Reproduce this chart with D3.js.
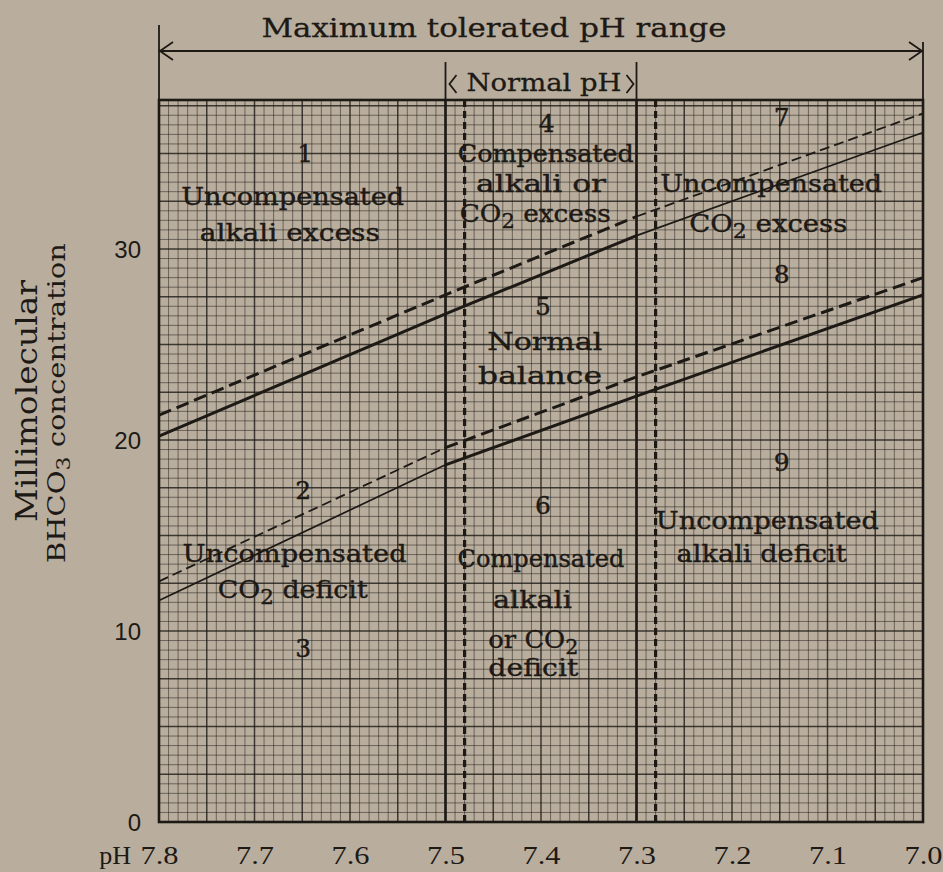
<!DOCTYPE html>
<html><head><meta charset="utf-8">
<script src="https://cdn.jsdelivr.net/npm/d3@7"></script>
<style>html,body{margin:0;padding:0;background:#b9ae9e;} svg{display:block}</style>
</head><body><svg id="c" width="943" height="872"></svg>
<script>
// ---- data ----
const phPoints    = [7.8, 7.5, 7.3, 7.0];
const upperSolid  = [20.2, 26.6, 30.7, 36.1];
const upperDashed = [21.3, 27.6, 31.7, 37.1];
const lowerSolid  = [11.6, 18.7, 22.3, 27.6];
const lowerDashed = [12.6, 19.6, 23.3, 28.5];
const phTicks     = [7.8, 7.7, 7.6, 7.5, 7.4, 7.3, 7.2, 7.1, 7.0];
const phTickLabels= ["7.8","7.7","7.6","7.5","7.4","7.3","7.2","7.1","7.0"];
const yTicks      = [0, 10, 20, 30];
const normalLimits= [7.5, 7.3];
const compLimits  = [7.48, 7.28];
const regionTexts = [
  ["1", 7.647, 35.0], ["Uncompensated", 7.660, 32.8, 223], ["alkali excess", 7.663, 30.9, 180],
  ["2", 7.649, 17.4], ["Uncompensated", 7.658, 14.1, 224], ["CO_2 deficit", 7.660, 12.2, 150],
  ["3", 7.649, 9.1],
  ["4", 7.394, 36.6], ["Compensated", 7.395, 35.0, 176], ["alkali or", 7.400, 33.45, 130], ["CO_2 excess", 7.406, 31.9, 151],
  ["5", 7.398, 27.0], ["Normal", 7.396, 25.2, 115], ["balance", 7.401, 23.4, 124],
  ["6", 7.398, 16.6], ["Compensated", 7.400, 13.8, 167], ["alkali", 7.409, 11.7, 79], ["or CO_2", 7.408, 9.6, 90], ["deficit", 7.408, 8.1, 90],
  ["7", 7.148, 36.9], ["Uncompensated", 7.159, 33.45, 222], ["CO_2 excess", 7.162, 31.35, 158],
  ["8", 7.148, 28.7],
  ["9", 7.148, 18.85], ["Uncompensated", 7.163, 15.8, 223], ["alkali deficit", 7.169, 14.1, 170]
];

const svg = d3.select("#c");
const ink = "#1d1915";
const x = d3.scaleLinear().domain([7.8, 7.0]).range([159, 923]);
const y = d3.scaleLinear().domain([0, 37.8]).range([822, 100]);

// background
svg.append("rect").attr("width", 943).attr("height", 872).attr("fill", "#b9ae9e");

// grid
const g = svg.append("g");
const minorX = d3.range(1, 80).map(i => ({v: 7.8 - i * 0.01, major: i % 5 === 0}));
const minorY = d3.range(1, 76).map(i => ({v: i * 0.5, major: i % 5 === 0}));
g.selectAll("line.gx").data(minorX).join("line")
  .attr("x1", d => x(d.v)).attr("x2", d => x(d.v))
  .attr("y1", y(37.8)).attr("y2", y(0))
  .attr("stroke", ink).attr("stroke-opacity", d => d.major ? 0.8 : 0.5)
  .attr("stroke-width", d => d.major ? 1.5 : 1);
g.selectAll("line.gy").data(minorY).join("line")
  .attr("y1", d => y(d.v)).attr("y2", d => y(d.v))
  .attr("x1", x(7.8)).attr("x2", x(7.0))
  .attr("stroke", ink).attr("stroke-opacity", d => d.major ? 0.8 : 0.5)
  .attr("stroke-width", d => d.major ? 1.5 : 1);

// region boundaries
svg.selectAll("line.nl").data(normalLimits).join("line")
  .attr("x1", d => x(d)).attr("x2", d => x(d)).attr("y1", y(37.8)).attr("y2", y(0))
  .attr("stroke", ink).attr("stroke-width", 2.6);
svg.selectAll("line.cl").data(compLimits).join("line")
  .attr("x1", d => x(d)).attr("x2", d => x(d)).attr("y1", y(37.8)).attr("y2", y(0))
  .attr("stroke", ink).attr("stroke-width", 3.2).attr("stroke-dasharray", "7,4");

// diagonal lines
const line = d3.line().x(d => x(d[0])).y(d => y(d[1]));
function seg(vals, i0, i1) { return d3.range(i0, i1 + 1).map(i => [phPoints[i], vals[i]]); }
const segs = [
  {d: seg(upperSolid, 0, 2), w: 3, dash: null},
  {d: seg(upperSolid, 2, 3), w: 1.7, dash: null},
  {d: seg(upperDashed, 0, 2), w: 3, dash: "13,6"},
  {d: seg(upperDashed, 2, 3), w: 1.8, dash: "10,5"},
  {d: seg(lowerSolid, 0, 1), w: 1.7, dash: null},
  {d: seg(lowerSolid, 1, 3), w: 3, dash: null},
  {d: seg(lowerDashed, 0, 1), w: 1.8, dash: "10,5"},
  {d: seg(lowerDashed, 1, 3), w: 3, dash: "13,6"}
];
svg.selectAll("path.s").data(segs).join("path")
  .attr("d", s => line(s.d)).attr("fill", "none").attr("stroke", ink)
  .attr("stroke-width", s => s.w).attr("stroke-dasharray", s => s.dash);

// frame
svg.append("rect").attr("x", x(7.8)).attr("y", y(37.8))
  .attr("width", x(7.0) - x(7.8)).attr("height", y(0) - y(37.8))
  .attr("fill", "none").attr("stroke", ink).attr("stroke-width", 2.6);

// region labels
function addText(sel, str) {
  const parts = str.split(/(_\d)/);
  parts.forEach(p => {
    if (!p) return;
    if (p[0] === "_") sel.append("tspan").attr("baseline-shift", "-28%").attr("font-size", "0.8em").text(p.slice(1));
    else sel.append("tspan").attr("baseline-shift", "0").text(p);
  });
}
const labG = svg.append("g").attr("font-family", "'DejaVu Serif', serif").attr("fill", ink)
  .attr("stroke", ink).attr("stroke-width", 0.4)
  .attr("font-size", 25).attr("text-anchor", "middle");
regionTexts.forEach(r => {
  const t = labG.append("text").attr("x", x(r[1])).attr("y", y(r[2]) + 9);
  if (r[3]) t.attr("textLength", r[3]).attr("lengthAdjust", "spacingAndGlyphs");
  addText(t, r[0]);
});

// axes tick labels
const xAxis = d3.axisBottom(x).tickValues(phTicks).tickFormat((d, i) => phTickLabels[i]).tickSize(0);
const xa = svg.append("g").attr("transform", `translate(0,${y(0)})`).call(xAxis);
xa.select(".domain").remove();
xa.selectAll("text").attr("font-family", "'Liberation Serif', serif").attr("font-size", 26)
  .attr("fill", ink).attr("dy", 0).attr("y", 42).attr("transform", null)
  .attr("textLength", 38).attr("lengthAdjust", "spacingAndGlyphs");
svg.append("text").attr("x", 131).attr("y", y(0) + 42).attr("text-anchor", "end")
  .attr("font-family", "'Liberation Serif', serif").attr("font-size", 26).attr("fill", ink).text("pH");

const yAxis = d3.axisLeft(y).tickValues(yTicks).tickSize(0);
const ya = svg.append("g").attr("transform", `translate(${x(7.8)},0)`).call(yAxis);
ya.select(".domain").remove();
ya.selectAll("text").attr("font-family", "'Liberation Sans', sans-serif").attr("font-size", 24)
  .attr("fill", ink).attr("x", -18).attr("dy", "0.36em");

// y title
svg.append("text").attr("transform", "translate(37,401) rotate(-90)").attr("text-anchor", "middle")
  .attr("font-family", "'DejaVu Serif', serif").attr("font-size", 29).attr("fill", ink)
  .attr("textLength", 242).attr("lengthAdjust", "spacingAndGlyphs").text("Millimolecular");
const yt2 = svg.append("text").attr("transform", "translate(65,403) rotate(-90)").attr("text-anchor", "middle")
  .attr("font-family", "'DejaVu Serif', serif").attr("font-size", 24).attr("fill", ink)
  .attr("textLength", 320).attr("lengthAdjust", "spacingAndGlyphs");
yt2.append("tspan").text("BHCO");
yt2.append("tspan").attr("baseline-shift", "-28%").attr("font-size", "0.75em").text("3");
yt2.append("tspan").attr("baseline-shift", "0").text("  concentration");

// top annotations
const topG = svg.append("g").attr("stroke", ink).attr("fill", "none");
topG.append("line").attr("x1", x(7.8)).attr("x2", x(7.0)).attr("y1", 51).attr("y2", 51).attr("stroke-width", 1.8);
topG.append("line").attr("x1", x(7.8)).attr("x2", x(7.8)).attr("y1", 25).attr("y2", 100).attr("stroke-width", 1.8);
topG.append("line").attr("x1", x(7.0)).attr("x2", x(7.0)).attr("y1", 42).attr("y2", 100).attr("stroke-width", 1.8);
topG.append("path").attr("d", `M${x(7.8) + 14},42 L${x(7.8) + 1},51 L${x(7.8) + 14},60`).attr("stroke-width", 1.8);
topG.append("path").attr("d", `M${x(7.0) - 14},42 L${x(7.0) - 1},51 L${x(7.0) - 14},60`).attr("stroke-width", 1.8);
normalLimits.forEach(p => topG.append("line").attr("x1", x(p)).attr("x2", x(p)).attr("y1", 62).attr("y2", 100).attr("stroke-width", 1.8));
topG.append("path").attr("d", `M${x(7.5) + 11},75 L${x(7.5) + 4},84 L${x(7.5) + 11},93`).attr("stroke-width", 1.8);
topG.append("path").attr("d", `M${x(7.3) - 10},75 L${x(7.3) - 3},84 L${x(7.3) - 10},93`).attr("stroke-width", 1.8);

svg.append("text").attr("x", 494).attr("y", 37).attr("text-anchor", "middle")
  .attr("font-family", "'DejaVu Serif', serif").attr("font-size", 26).attr("fill", ink)
  .attr("stroke", ink).attr("stroke-width", 0.3)
  .attr("textLength", 465).attr("lengthAdjust", "spacingAndGlyphs").text("Maximum tolerated pH range");
svg.append("text").attr("x", 544).attr("y", 91).attr("text-anchor", "middle")
  .attr("font-family", "'DejaVu Serif', serif").attr("font-size", 24).attr("fill", ink)
  .attr("stroke", ink).attr("stroke-width", 0.3)
  .attr("textLength", 155).attr("lengthAdjust", "spacingAndGlyphs").text("Normal pH");
</script></body></html>
